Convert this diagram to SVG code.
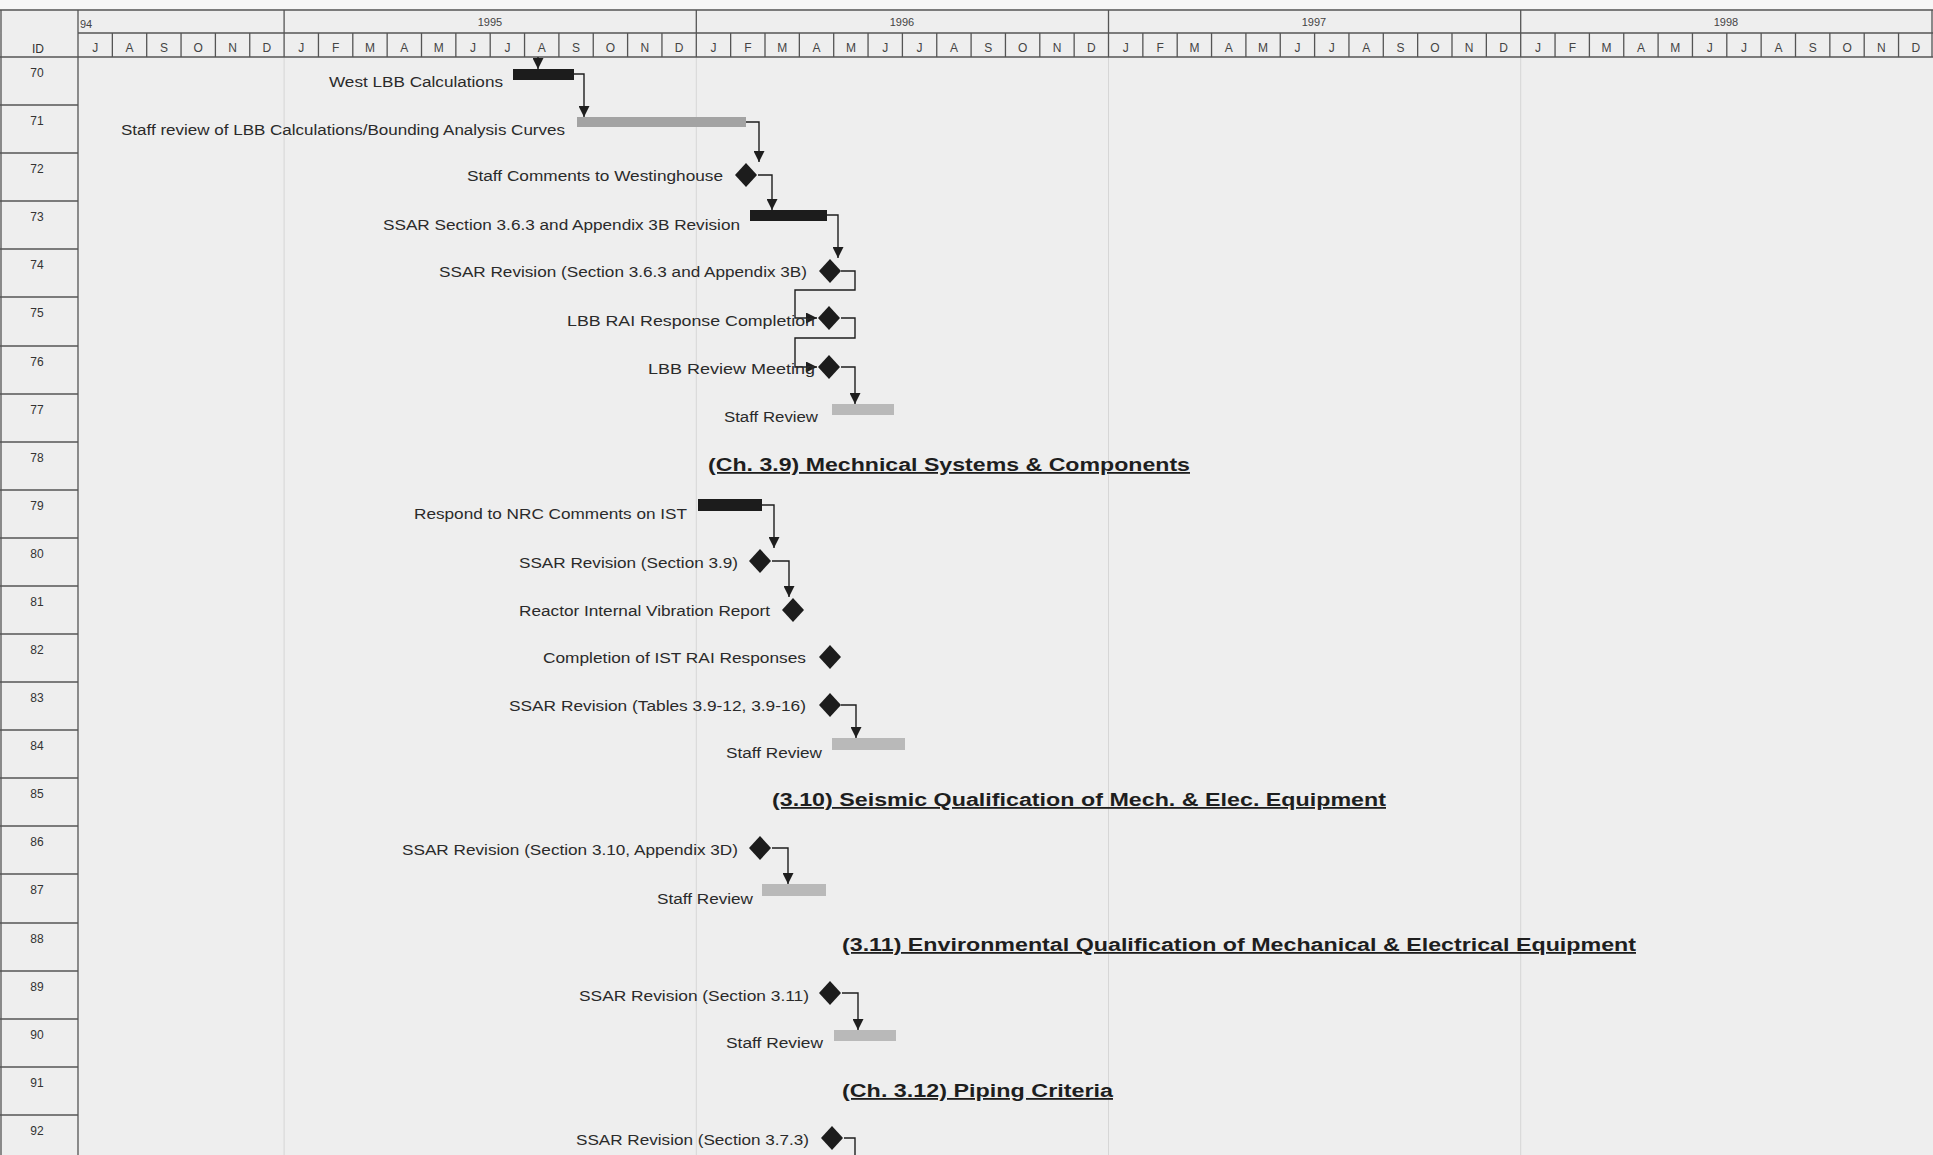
<svg xmlns="http://www.w3.org/2000/svg" width="1933" height="1155" viewBox="0 0 1933 1155">
<style>
text{font-family:"Liberation Sans",Arial,sans-serif;fill:#2a2a2a}
.lbl{font-size:14px}
.hd{font-size:18px;font-weight:bold;text-decoration:underline;fill:#1e1e1e}
.id{font-size:12px;text-anchor:middle;fill:#333}
.mo{font-size:12px;text-anchor:middle;fill:#444}
.yr{font-size:11px;fill:#444}
.grid{stroke:#555;stroke-width:1.3;fill:none}
.faint{stroke:#d6d6d6;stroke-width:1;fill:none}
.conn{stroke:#1e1e1e;stroke-width:1.4;fill:none;marker-end:url(#ah)}
.barK{fill:#1c1c1c}
.barG{fill:#a3a3a3}
.barL{fill:#b9b9b9}
.ms{fill:#1c1c1c}
</style>
<defs>
<marker id="ah" viewBox="0 0 10 10" refX="10" refY="5" markerWidth="11" markerHeight="11" markerUnits="userSpaceOnUse" orient="auto">
<path d="M0,0 L10,5 L0,10 z" fill="#1e1e1e"/>
</marker>
</defs>
<rect x="0" y="0" width="1933" height="1155" fill="#eeeeee"/>
<rect x="0" y="0" width="1933" height="9" fill="#f6f6f6"/>

<g id="timescale">
<path class="faint" d="M284.1,57V1155 M696.3,57V1155 M1108.5,57V1155 M1520.7,57V1155"/>
<path class="grid" d="M0,10H1933 M78,33H1933 M0,57H1933 M78,10V1155 M1,10V1155 M1932,10V57 M284.1,10V57 M696.3,10V57 M1108.5,10V57 M1520.7,10V57"/>
<path class="grid" stroke-width="1" d="M112.35,33V57 M146.7,33V57 M181.05,33V57 M215.4,33V57 M249.75,33V57 M318.45,33V57 M352.8,33V57 M387.15,33V57 M421.5,33V57 M455.85,33V57 M490.2,33V57 M524.55,33V57 M558.9,33V57 M593.25,33V57 M627.6,33V57 M661.95,33V57 M730.65,33V57 M765,33V57 M799.35,33V57 M833.7,33V57 M868.05,33V57 M902.4,33V57 M936.75,33V57 M971.1,33V57 M1005.45,33V57 M1039.8,33V57 M1074.15,33V57 M1142.85,33V57 M1177.2,33V57 M1211.55,33V57 M1245.9,33V57 M1280.25,33V57 M1314.6,33V57 M1348.95,33V57 M1383.3,33V57 M1417.65,33V57 M1452,33V57 M1486.35,33V57 M1555.05,33V57 M1589.4,33V57 M1623.75,33V57 M1658.1,33V57 M1692.45,33V57 M1726.8,33V57 M1761.15,33V57 M1795.5,33V57 M1829.85,33V57 M1864.2,33V57 M1898.55,33V57"/>
<text class="yr" x="80" y="28">94</text>
<text class="yr" x="490" y="26" text-anchor="middle">1995</text>
<text class="yr" x="902" y="26" text-anchor="middle">1996</text>
<text class="yr" x="1314" y="26" text-anchor="middle">1997</text>
<text class="yr" x="1726" y="26" text-anchor="middle">1998</text>
<text class="mo" y="52" x="95.2 129.5 163.9 198.2 232.6 266.9">JASOND</text>
<text class="mo" y="52" x="301.3 335.6 370.0 404.3 438.7 473.0 507.4 541.8 576.1 610.5 644.8 679.2">JFMAMJJASOND</text>
<text class="mo" y="52" x="713.5 747.9 782.2 816.6 850.9 885.3 919.6 954.0 988.3 1022.7 1057.0 1091.4">JFMAMJJASOND</text>
<text class="mo" y="52" x="1125.7 1160.1 1194.4 1228.8 1263.1 1297.5 1331.8 1366.2 1400.5 1434.9 1469.2 1503.6">JFMAMJJASOND</text>
<text class="mo" y="52" x="1537.9 1572.3 1606.6 1641.0 1675.3 1709.7 1744.0 1778.4 1812.7 1847.1 1881.4 1915.8">JFMAMJJASOND</text>
<text class="id" x="38" y="53">ID</text>
</g>

<g id="id-column">
<path class="grid" d="M0,105H78 M0,153H78 M0,201H78 M0,249H78 M0,297H78 M0,346H78 M0,394H78 M0,442H78 M0,490H78 M0,538H78 M0,586H78 M0,634H78 M0,682H78 M0,730H78 M0,778H78 M0,826H78 M0,874H78 M0,923H78 M0,971H78 M0,1019H78 M0,1067H78 M0,1115H78"/>
<text class="id" x="37" y="77">70</text>
<text class="id" x="37" y="125">71</text>
<text class="id" x="37" y="173">72</text>
<text class="id" x="37" y="221">73</text>
<text class="id" x="37" y="269">74</text>
<text class="id" x="37" y="317">75</text>
<text class="id" x="37" y="366">76</text>
<text class="id" x="37" y="414">77</text>
<text class="id" x="37" y="462">78</text>
<text class="id" x="37" y="510">79</text>
<text class="id" x="37" y="558">80</text>
<text class="id" x="37" y="606">81</text>
<text class="id" x="37" y="654">82</text>
<text class="id" x="37" y="702">83</text>
<text class="id" x="37" y="750">84</text>
<text class="id" x="37" y="798">85</text>
<text class="id" x="37" y="846">86</text>
<text class="id" x="37" y="894">87</text>
<text class="id" x="37" y="943">88</text>
<text class="id" x="37" y="991">89</text>
<text class="id" x="37" y="1039">90</text>
<text class="id" x="37" y="1087">91</text>
<text class="id" x="37" y="1135">92</text>
</g>

<g id="connectors">
<path class="conn" d="M538,57V69"/>
<path class="conn" d="M574,74H584V117"/>
<path class="conn" d="M746,122H759V162"/>
<path class="conn" d="M758,175H772V210"/>
<path class="conn" d="M827,215H838V258"/>
<path class="conn" d="M841,271H855V290H795V318H817"/>
<path class="conn" d="M841,318H855V338H795V367H817"/>
<path class="conn" d="M841,367H855V404"/>
<path class="conn" d="M762,505H774V548"/>
<path class="conn" d="M772,561H789V597"/>
<path class="conn" d="M841,705H856V738"/>
<path class="conn" d="M772,848H788V884"/>
<path class="conn" d="M842,993H858V1030"/>
<path class="conn" d="M844,1138H855V1160" style="marker-end:none"/>
</g>

<g id="task70"><rect class="barK" x="513" y="69" width="61" height="11"/><text class="lbl" x="329" y="87" textLength="174" lengthAdjust="spacingAndGlyphs">West LBB Calculations</text></g>
<g id="task71"><rect class="barG" x="577" y="117" width="169" height="10"/><text class="lbl" x="121" y="135" textLength="444" lengthAdjust="spacingAndGlyphs">Staff review of LBB Calculations/Bounding Analysis Curves</text></g>
<g id="task72"><path class="ms" d="M746,163L757,175L746,187L735,175z"/><text class="lbl" x="467" y="181" textLength="256" lengthAdjust="spacingAndGlyphs">Staff Comments to Westinghouse</text></g>
<g id="task73"><rect class="barK" x="750" y="210" width="77" height="11"/><text class="lbl" x="383" y="230" textLength="357" lengthAdjust="spacingAndGlyphs">SSAR Section 3.6.3 and Appendix 3B Revision</text></g>
<g id="task74"><path class="ms" d="M830,259L841,271L830,283L819,271z"/><text class="lbl" x="439" y="277" textLength="368" lengthAdjust="spacingAndGlyphs">SSAR Revision (Section 3.6.3 and Appendix 3B)</text></g>
<g id="task75"><path class="ms" d="M829,306L840,318L829,330L818,318z"/><text class="lbl" x="567" y="326" textLength="248" lengthAdjust="spacingAndGlyphs">LBB RAI Response Completion</text></g>
<g id="task76"><path class="ms" d="M829,355L840,367L829,379L818,367z"/><text class="lbl" x="648" y="374" textLength="167" lengthAdjust="spacingAndGlyphs">LBB Review Meeting</text></g>
<g id="task77"><rect class="barL" x="832" y="404" width="62" height="11"/><text class="lbl" x="724" y="422" textLength="94" lengthAdjust="spacingAndGlyphs">Staff Review</text></g>
<g id="heading78"><text class="hd" x="708" y="471" textLength="482" lengthAdjust="spacingAndGlyphs">(Ch. 3.9) Mechnical Systems &amp; Components</text></g>
<g id="task79"><rect class="barK" x="698" y="499" width="64" height="12"/><text class="lbl" x="414" y="519" textLength="273" lengthAdjust="spacingAndGlyphs">Respond to NRC Comments on IST</text></g>
<g id="task80"><path class="ms" d="M760,549L771,561L760,573L749,561z"/><text class="lbl" x="519" y="568" textLength="219" lengthAdjust="spacingAndGlyphs">SSAR Revision (Section 3.9)</text></g>
<g id="task81"><path class="ms" d="M793,598L804,610L793,622L782,610z"/><text class="lbl" x="519" y="616" textLength="251" lengthAdjust="spacingAndGlyphs">Reactor Internal Vibration Report</text></g>
<g id="task82"><path class="ms" d="M830,645L841,657L830,669L819,657z"/><text class="lbl" x="543" y="663" textLength="263" lengthAdjust="spacingAndGlyphs">Completion of IST RAI Responses</text></g>
<g id="task83"><path class="ms" d="M830,693L841,705L830,717L819,705z"/><text class="lbl" x="509" y="711" textLength="297" lengthAdjust="spacingAndGlyphs">SSAR Revision (Tables 3.9-12, 3.9-16)</text></g>
<g id="task84"><rect class="barL" x="832" y="738" width="73" height="12"/><text class="lbl" x="726" y="758" textLength="96" lengthAdjust="spacingAndGlyphs">Staff Review</text></g>
<g id="heading85"><text class="hd" x="772" y="806" textLength="614" lengthAdjust="spacingAndGlyphs">(3.10) Seismic Qualification of Mech. &amp; Elec. Equipment</text></g>
<g id="task86"><path class="ms" d="M760,836L771,848L760,860L749,848z"/><text class="lbl" x="402" y="855" textLength="336" lengthAdjust="spacingAndGlyphs">SSAR Revision (Section 3.10, Appendix 3D)</text></g>
<g id="task87"><rect class="barL" x="762" y="884" width="64" height="12"/><text class="lbl" x="657" y="904" textLength="96" lengthAdjust="spacingAndGlyphs">Staff Review</text></g>
<g id="heading88"><text class="hd" x="842" y="951" textLength="794" lengthAdjust="spacingAndGlyphs">(3.11) Environmental Qualification of Mechanical &amp; Electrical Equipment</text></g>
<g id="task89"><path class="ms" d="M830,981L841,993L830,1005L819,993z"/><text class="lbl" x="579" y="1001" textLength="230" lengthAdjust="spacingAndGlyphs">SSAR Revision (Section 3.11)</text></g>
<g id="task90"><rect class="barL" x="834" y="1030" width="62" height="11"/><text class="lbl" x="726" y="1048" textLength="97" lengthAdjust="spacingAndGlyphs">Staff Review</text></g>
<g id="heading91"><text class="hd" x="842" y="1097" textLength="271" lengthAdjust="spacingAndGlyphs">(Ch. 3.12) Piping Criteria</text></g>
<g id="task92"><path class="ms" d="M832,1126L843,1138L832,1150L821,1138z"/><text class="lbl" x="576" y="1145" textLength="233" lengthAdjust="spacingAndGlyphs">SSAR Revision (Section 3.7.3)</text></g>
</svg>
